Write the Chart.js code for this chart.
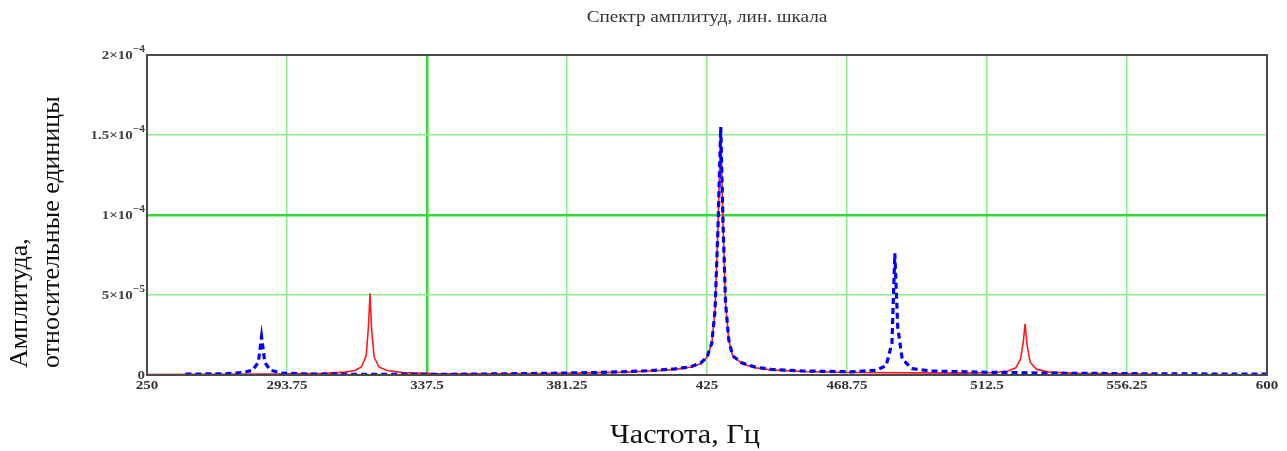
<!DOCTYPE html>
<html><head><meta charset="utf-8">
<script src="https://cdn.jsdelivr.net/npm/chart.js@4"></script>
<style>html,body{margin:0;padding:0;background:#fff}#wrap{width:1287px;height:451px}</style>
</head><body><div id="wrap"><canvas id="c" width="1287" height="451"></canvas></div>
<script>
const chartTitle = "Спектр амплитуд, лин. шкала";
const xTitle = "Частота, Гц";
const yTitle = ["Амплитуда,", "относительные единицы"];

const xTickValues = [250, 293.75, 337.5, 381.25, 425, 468.75, 512.5, 556.25, 600];
const xTickLabels = ["250", "293.75", "337.5", "381.25", "425", "468.75", "512.5", "556.25", "600"];
const yTickValues = [0, 5e-5, 1e-4, 1.5e-4, 2e-4];
const yTickMantissa = ["0", "5×10", "1×10", "1.5×10", "2×10"];
const yTickExponent = ["", "−5", "−4", "−4", "−4"];

// Series 1 (blue dashed)
const blueFreq = [262, 275, 280, 283, 284.8, 285.8, 286.8, 288.5, 292, 300, 320, 350, 370, 390, 405, 415, 420, 423, 425, 426.5, 427.5, 428.4, 429.3, 430, 430.8, 431.8, 433, 436, 440, 445, 455, 470, 478, 481, 482.8, 483.7, 484.6, 486, 489, 495, 510, 530, 560, 600];
const blueAmp  = [0.5e-6, 0.8e-6, 1.5e-6, 3e-6, 8e-6, 24e-6, 8e-6, 3e-6, 1.2e-6, 0.6e-6, 0.4e-6, 0.5e-6, 0.9e-6, 1.5e-6, 2.5e-6, 3.8e-6, 5.2e-6, 7.5e-6, 11e-6, 20e-6, 40e-6, 90e-6, 155e-6, 95e-6, 45e-6, 22e-6, 12e-6, 7.5e-6, 5e-6, 3.5e-6, 2.5e-6, 2e-6, 3e-6, 6e-6, 20e-6, 76e-6, 30e-6, 10e-6, 4e-6, 2.5e-6, 1.8e-6, 1.2e-6, 0.8e-6, 0.5e-6];

// Series 2 (red solid)
const redFreq = [250, 270, 290, 305, 312, 315, 317, 318.5, 319.2, 319.7, 320.2, 321, 322.5, 325, 330, 340, 360, 380, 400, 410, 415, 420, 423, 425, 426.5, 427.5, 428.4, 429.3, 430, 430.8, 431.8, 433, 436, 440, 445, 455, 470, 490, 505, 515, 519, 521.5, 523, 523.8, 524.4, 525, 526, 528, 532, 540, 555, 566];
const redAmp  = [0.3e-6, 0.4e-6, 0.6e-6, 1.0e-6, 1.8e-6, 2.8e-6, 5e-6, 12e-6, 30e-6, 51e-6, 28e-6, 11e-6, 5e-6, 2.8e-6, 1.5e-6, 0.9e-6, 0.8e-6, 1.0e-6, 1.8e-6, 2.8e-6, 3.5e-6, 5e-6, 7e-6, 11e-6, 20e-6, 40e-6, 90e-6, 154e-6, 95e-6, 45e-6, 22e-6, 12e-6, 7e-6, 4.5e-6, 3.2e-6, 2.2e-6, 1.6e-6, 1.3e-6, 1.2e-6, 1.6e-6, 2.5e-6, 4.5e-6, 10e-6, 20e-6, 32e-6, 19e-6, 8e-6, 3.5e-6, 1.8e-6, 1.0e-6, 0.7e-6, 0.5e-6];

const toPts = (xs, ys) => xs.map((x, i) => ({x: x, y: ys[i]}));

const SERIF = "'Liberation Serif', 'DejaVu Serif', serif";

function stretchedText(ctx, text, x, y, align, sx) {
  ctx.save();
  ctx.translate(x, y);
  ctx.scale(sx, 1);
  ctx.textAlign = align;
  ctx.fillText(text, 0, 0);
  ctx.restore();
}

const decor = {
  id: 'decor',
  afterDraw(chart) {
    const {ctx, chartArea: a} = chart;
    const ys = chart.scales.y;
    const xs = chart.scales.x;
    ctx.save();
    ctx.strokeStyle = '#4a4a4a';
    ctx.lineWidth = 2;
    ctx.strokeRect(a.left, a.top, a.right - a.left, a.bottom - a.top);

    const SX = 1.15;
    // y tick labels with superscript exponents
    ctx.fillStyle = '#444';
    ctx.textBaseline = 'middle';
    yTickValues.forEach((v, i) => {
      const py = ys.getPixelForValue(v);
      const right = a.left - 2;
      let ew = 0;
      if (yTickExponent[i]) {
        ctx.font = "bold 10px " + SERIF;
        ew = ctx.measureText(yTickExponent[i]).width * SX;
        stretchedText(ctx, yTickExponent[i], right, py - 6, 'right', SX);
      }
      ctx.font = "bold 13px " + SERIF;
      stretchedText(ctx, yTickMantissa[i], right - ew, py + 1, 'right', SX);
    });

    // x tick labels
    ctx.fillStyle = '#333';
    ctx.font = "bold 13px " + SERIF;
    ctx.textBaseline = 'middle';
    xTickValues.forEach((v, i) => {
      stretchedText(ctx, xTickLabels[i], xs.getPixelForValue(v), a.bottom + 11, 'center', SX);
    });

    ctx.fillStyle = '#333';
    ctx.font = "16px " + SERIF;
    stretchedText(ctx, chartTitle, (a.left + a.right) / 2, 18, 'center', 1.2);
    ctx.fillStyle = '#111';
    ctx.font = "27px " + SERIF;
    stretchedText(ctx, xTitle, 685, 436, 'center', 1.12);
    ctx.font = "26px " + SERIF;
    ctx.translate(0, 368);
    ctx.rotate(-Math.PI / 2);
    ctx.textAlign = 'left';
    ctx.fillText(yTitle[0], 0, 20);
    ctx.fillText(yTitle[1], 0, 52);
    ctx.restore();
  }
};

new Chart(document.getElementById('c'), {
  type: 'line',
  data: {
    datasets: [
      {data: toPts(blueFreq, blueAmp), borderColor: '#0000ff', borderWidth: 3.2, borderDash: [6, 4], pointRadius: 0, fill: false, tension: 0},
      {data: toPts(redFreq, redAmp), borderColor: '#ff1a1a', borderWidth: 1.6, pointRadius: 0, fill: false, tension: 0}
    ]
  },
  options: {
    responsive: false,
    animation: false,
    layout: {padding: {left: 0, right: 20, top: 55, bottom: 0}},
    plugins: {legend: {display: false}, tooltip: {enabled: false}, title: {display: false}},
    scales: {
      x: {
        type: 'linear', min: 250, max: 600,
        afterBuildTicks: s => { s.ticks = xTickValues.map(v => ({value: v})); },
        afterFit: s => { s.height = 76; },
        ticks: {display: false},
        grid: {
          color: c => (c.tick && c.tick.value === 337.5) ? '#33dd33' : '#8aec8a',
          lineWidth: c => (c.tick && c.tick.value === 337.5) ? 2.5 : 1.5,
          drawTicks: false
        },
        border: {display: false}
      },
      y: {
        type: 'linear', min: 0, max: 2e-4,
        afterBuildTicks: s => { s.ticks = yTickValues.map(v => ({value: v})); },
        afterFit: s => { s.width = 147; },
        ticks: {display: false},
        grid: {
          color: c => (c.tick && c.tick.value === 1e-4) ? '#33dd33' : '#8aec8a',
          lineWidth: c => (c.tick && c.tick.value === 1e-4) ? 2.5 : 1.5,
          drawTicks: false
        },
        border: {display: false}
      }
    }
  },
  plugins: [decor]
});
</script></body></html>
